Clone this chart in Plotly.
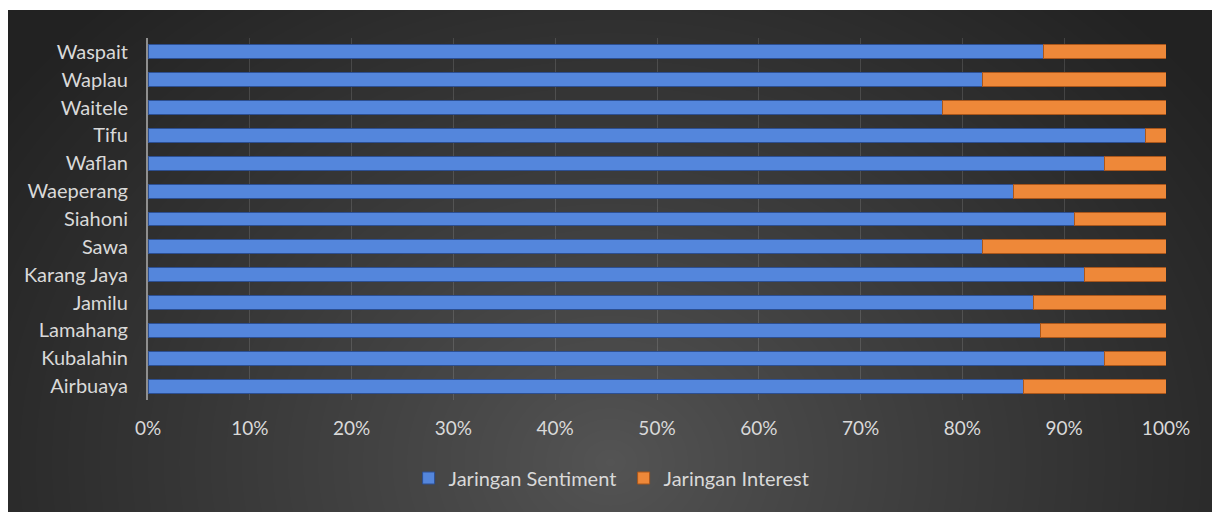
import base64, struct, zlib
import numpy as np
import plotly.graph_objects as go

# ---------------- data ----------------
villages = ["Airbuaya", "Kubalahin", "Lamahang", "Jamilu", "Karang Jaya", "Sawa",
            "Siahoni", "Waeperang", "Waflan", "Tifu", "Waitele", "Waplau", "Waspait"]
sentiment = [86, 94, 87.7, 87, 92, 82, 91, 85, 94, 98, 78, 82, 88]
interest = [14, 6, 12.3, 13, 8, 18, 9, 15, 6, 2, 22, 18, 12]
x_ticks = [0, 10, 20, 30, 40, 50, 60, 70, 80, 90, 100]
x_tick_labels = [f"{v}%" for v in x_ticks]

# ---------------- geometry ----------------
W, H = 1204, 502
ML, MR, MT, MB = 140, 46, 28, 112
PW, PH = W - ML - MR, H - MT - MB


def make_png(arr):
    h, w, _ = arr.shape
    raw = b"".join(b"\x00" + arr[i].tobytes() for i in range(h))

    def chunk(tag, data):
        c = struct.pack(">I", len(data)) + tag + data
        return c + struct.pack(">I", zlib.crc32(tag + data) & 0xFFFFFFFF)

    return (b"\x89PNG\r\n\x1a\n" + chunk(b"IHDR", struct.pack(">IIBBBBB", w, h, 8, 2, 0, 0, 0))
            + chunk(b"IDAT", zlib.compress(raw, 9)) + chunk(b"IEND", b""))


# radial dark gradient background
yy, xx = np.mgrid[0:H, 0:W].astype(float)
cx, cy = W * 0.5, H * 0.9
d = np.sqrt(((xx - cx) / (W * 0.62)) ** 2 + ((yy - cy) / (H * 1.25)) ** 2)
t = np.clip(d, 0, 1) ** 0.9
c_in, c_out = np.array([84, 84, 84]), np.array([34, 34, 34])
img = (c_in[None, None, :] * (1 - t[..., None]) + c_out[None, None, :] * t[..., None]).round().astype(np.uint8)
bg_uri = "data:image/png;base64," + base64.b64encode(make_png(img)).decode()

FONT = "Lato"
TXT = "#d9d9d9"

fig = go.Figure()
fig.add_trace(go.Bar(
    y=villages, x=sentiment, orientation="h", name="Jaringan Sentiment",
    marker=dict(color="#5486dc", line=dict(color="#2c4f92", width=1)),
))
fig.add_trace(go.Bar(
    y=villages, x=interest, orientation="h", name="Jaringan Interest",
    marker=dict(color="#ee8839", line=dict(color="#a9561b", width=1)),
))

fig.update_layout(
    width=W, height=H,
    margin=dict(l=ML, r=MR, t=MT, b=MB),
    barmode="stack", barnorm="percent", bargap=0.5,
    paper_bgcolor="#2e2e2e", plot_bgcolor="rgba(0,0,0,0)",
    font=dict(family=FONT, size=19, color=TXT),
    images=[dict(source=bg_uri, xref="paper", yref="paper",
                 x=-ML / PW, y=1 + MT / PH, sizex=W / PW, sizey=H / PH,
                 xanchor="left", yanchor="top", sizing="stretch", layer="below")],
    xaxis=dict(range=[0, 100], tickvals=x_ticks, ticktext=x_tick_labels,
               showgrid=True, gridcolor="rgba(255,255,255,0.13)", gridwidth=1,
               zeroline=False, showline=False, ticks="", ticklabelstandoff=15,
               tickfont=dict(family=FONT, size=19, color=TXT), fixedrange=True),
    yaxis=dict(showgrid=False, zeroline=False, showline=True, linecolor="#8f8f8f",
               linewidth=2, ticks="", ticklabelstandoff=14,
               tickfont=dict(family=FONT, size=20, color=TXT),
               categoryorder="array", categoryarray=villages, fixedrange=True),
    legend=dict(orientation="h", x=0.256, xanchor="left", y=-78 / PH, yanchor="middle",
                entrywidth=170, entrywidthmode="pixels",
                font=dict(family=FONT, size=20, color=TXT), bgcolor="rgba(0,0,0,0)",
                traceorder="normal", itemclick=False, itemdoubleclick=False),
    showlegend=True,
)

fig.write_html("out.html", config={"displayModeBar": False},
               post_script="document.body.style.margin='10px 0 0 8px';document.body.style.overflow='hidden';")
